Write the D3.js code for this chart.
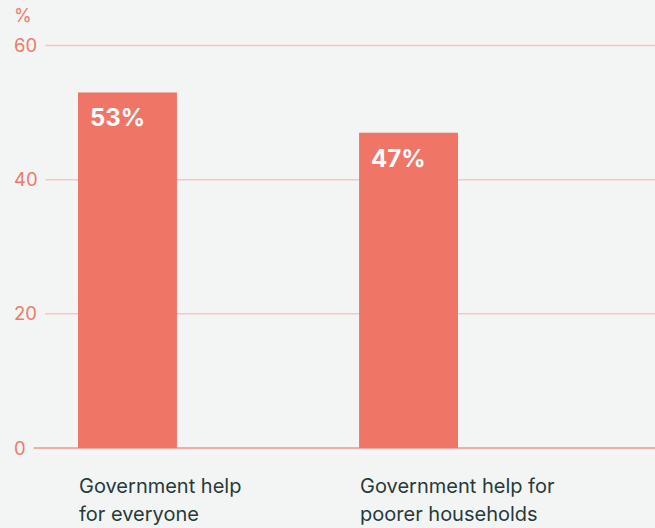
<!DOCTYPE html>
<html><head><meta charset="utf-8">
<script src="https://cdn.jsdelivr.net/npm/d3@7"></script>
<style>
html,body{margin:0;padding:0;background:#f3f5f4;}
svg{display:block;font-family:Inter, Roboto, sans-serif;}
</style></head>
<body><svg id="c" width="655" height="528"></svg>
<script>
const categories = [["Government help","for everyone"],["Government help for","poorer households"]];
const values = [53, 47];
const valueLabels = ["53%", "47%"];
const yTicks = [0, 20, 40, 60];
const unitLabel = "%";

const svg = d3.select("#c");
const W = 655;
const y = d3.scaleLinear().domain([0, 60]).range([448, 45.5]);
const x = d3.scaleBand().domain(d3.range(categories.length)).range([78, 458]).paddingInner(0.648).paddingOuter(0);

svg.append("text").attr("x", 14).attr("y", 22).attr("fill", "#f07a6a").attr("font-size", 18).text(unitLabel);

const g = svg.append("g");
yTicks.forEach(t => {
  const lbl = g.append("text").attr("x", 14).attr("y", y(t) + 6.5).attr("fill", "#f07a6a").attr("font-size", 18.5).text(t);
  const w = lbl.node().getComputedTextLength();
  g.append("line").attr("x1", 14 + w + 8).attr("x2", W).attr("y1", y(t)).attr("y2", y(t))
    .attr("stroke", t === 0 ? "#f2968a" : "#f5c8bd").attr("stroke-width", 1.5);
});

svg.selectAll("rect.bar").data(values).join("rect").attr("class", "bar")
  .attr("x", (d, i) => x(i)).attr("width", x.bandwidth())
  .attr("y", d => y(d)).attr("height", d => y(0) - y(d)).attr("fill", "#ef7667");

svg.selectAll("text.vl").data(values).join("text").attr("class", "vl")
  .attr("x", (d, i) => x(i) + 12).attr("y", d => y(d) + 34)
  .attr("fill", "#fff").attr("font-size", 24).attr("font-weight", 700)
  .text((d, i) => valueLabels[i]);

categories.forEach((lines, i) => {
  const t = svg.append("text").attr("x", x(i) + 1).attr("y", 493).attr("fill", "#263a3a").attr("font-size", 20);
  lines.forEach((l, j) => t.append("tspan").attr("x", x(i) + 1).attr("dy", j ? 28 : 0).text(l));
});
</script></body></html>
